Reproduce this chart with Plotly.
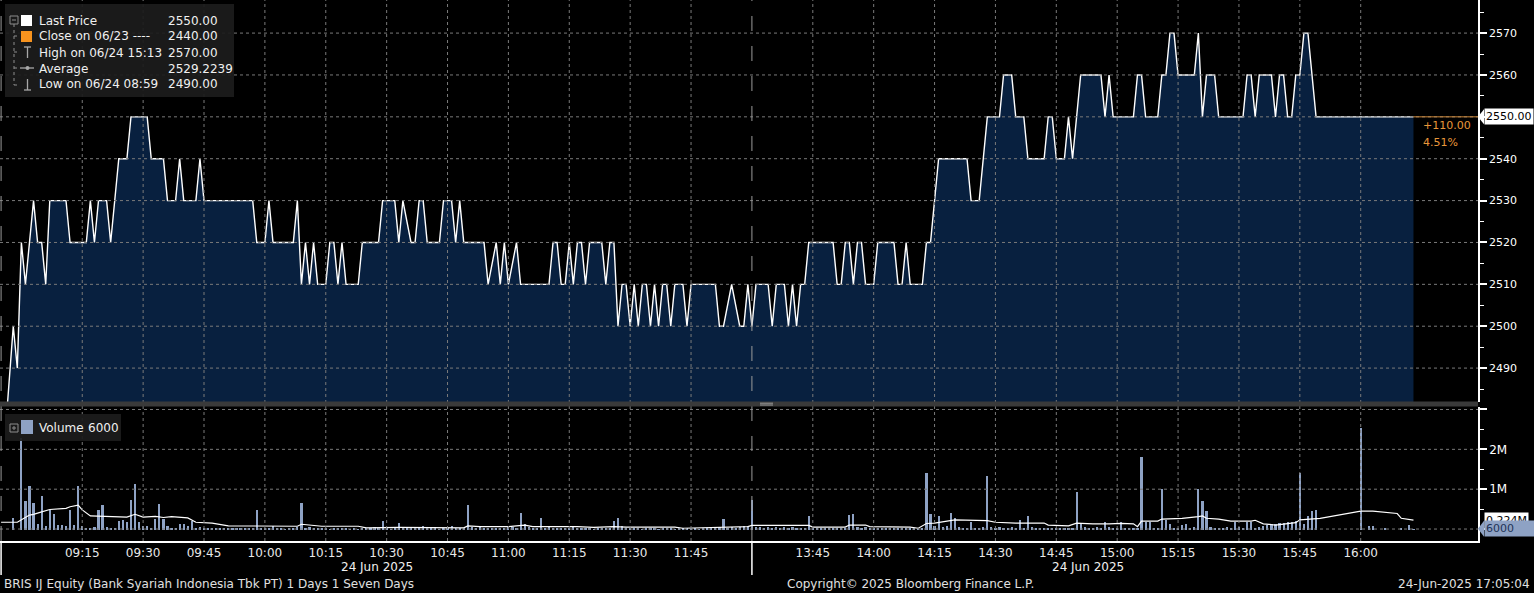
import plotly.graph_objects as go
import pandas as pd

DAY = "2025-06-24 "

# ---------------- price data (vertices of the intraday line) ----------------
price_times = [
    "08:56", "08:58", "08:59", "09:00", "09:01", "09:02", "09:03", "09:04", "09:05", "09:06",
    "09:07", "09:11", "09:12", "09:16", "09:17", "09:18", "09:19", "09:21", "09:22", "09:24",
    "09:26", "09:27", "09:31", "09:32", "09:35", "09:36", "09:38", "09:39", "09:40", "09:43",
    "09:44", "09:45", "09:57", "09:58", "10:00", "10:01", "10:02", "10:07", "10:08", "10:09",
    "10:10", "10:11", "10:12", "10:13", "10:15", "10:16", "10:17", "10:18", "10:19", "10:20",
    "10:23", "10:24", "10:28", "10:29", "10:32", "10:33", "10:34", "10:36", "10:37", "10:38",
    "10:39", "10:40", "10:43", "10:44", "10:46", "10:47", "10:48", "10:49", "10:54", "10:55",
    "10:57", "10:58", "10:59", "11:00", "11:02", "11:03", "11:10", "11:11", "11:12", "11:13",
    "11:14", "11:15", "11:16", "11:17", "11:18", "11:19", "11:20", "11:23", "11:24", "11:25",
    "11:26", "11:27", "11:28", "11:29", "11:30", "11:31", "11:32", "11:33", "11:34", "11:35",
    "11:36", "11:37", "11:38", "11:39", "11:40", "11:41", "11:43", "11:44", "11:45", "11:51",
    "11:52", "11:53", "11:55", "11:57", "11:58", "11:59",
    "13:30", "13:31", "13:34", "13:35", "13:36", "13:38", "13:39", "13:40", "13:41", "13:42",
    "13:43", "13:44", "13:50", "13:51", "13:52", "13:53", "13:54", "13:55", "13:56", "13:57",
    "13:58", "14:00", "14:01", "14:05", "14:06", "14:07", "14:08", "14:09", "14:12", "14:13",
    "14:14", "14:15", "14:16", "14:23", "14:24", "14:26", "14:27", "14:28", "14:31", "14:32",
    "14:34", "14:35", "14:37", "14:38", "14:42", "14:43", "14:44", "14:45", "14:47", "14:48",
    "14:49", "14:50", "14:51", "14:56", "14:57", "14:58", "14:59", "15:04", "15:05", "15:06",
    "15:07", "15:10", "15:11", "15:12", "15:13", "15:14", "15:15", "15:19", "15:20", "15:21",
    "15:22", "15:24", "15:25", "15:31", "15:32", "15:33", "15:34", "15:35", "15:38", "15:39",
    "15:40", "15:41", "15:42", "15:43", "15:44", "15:45", "15:46", "15:47", "15:48", "15:49",
    "16:13",
]
price_values = [
    2474, 2500, 2490, 2520, 2510, 2520, 2530, 2520, 2520, 2510,
    2530, 2530, 2520, 2520, 2530, 2520, 2530, 2530, 2520, 2540,
    2540, 2550, 2550, 2540, 2540, 2530, 2530, 2540, 2530, 2530,
    2540, 2530, 2530, 2520, 2520, 2530, 2520, 2520, 2530, 2510,
    2520, 2510, 2520, 2510, 2510, 2520, 2520, 2510, 2520, 2510,
    2510, 2520, 2520, 2530, 2530, 2520, 2530, 2520, 2520, 2530,
    2530, 2520, 2520, 2530, 2530, 2520, 2530, 2520, 2520, 2510,
    2520, 2510, 2520, 2510, 2520, 2510, 2510, 2520, 2520, 2510,
    2510, 2520, 2510, 2520, 2520, 2510, 2520, 2520, 2510, 2520,
    2520, 2500, 2510, 2510, 2500, 2510, 2500, 2510, 2510, 2500,
    2510, 2500, 2510, 2510, 2500, 2510, 2510, 2500, 2510, 2510,
    2500, 2500, 2510, 2500, 2500, 2510,
    2500, 2510, 2510, 2500, 2510, 2510, 2500, 2510, 2500, 2510,
    2510, 2520, 2520, 2510, 2510, 2520, 2520, 2510, 2520, 2520,
    2510, 2510, 2520, 2520, 2510, 2510, 2520, 2510, 2510, 2520,
    2520, 2530, 2540, 2540, 2530, 2530, 2540, 2550, 2550, 2560,
    2560, 2550, 2550, 2540, 2540, 2550, 2550, 2540, 2540, 2550,
    2540, 2550, 2560, 2560, 2550, 2560, 2550, 2550, 2560, 2560,
    2550, 2550, 2560, 2560, 2570, 2570, 2560, 2560, 2570, 2550,
    2560, 2560, 2550, 2550, 2560, 2560, 2550, 2560, 2560, 2550,
    2560, 2560, 2550, 2550, 2560, 2560, 2570, 2570, 2560, 2550,
    2550,
]

# ---------------- volume data (thousand shares per minute) ----------------
vol_preopen_times = ["08:58"]
vol_preopen_k = [280]
vol_morning_k = [  # 09:00 .. 11:59
    2300, 720, 1100, 670, 150, 830, 100, 480, 400, 120,
    120, 100, 490, 120, 1100, 80, 40, 40, 70, 480,
    620, 70, 40, 40, 220, 240, 180, 750, 1140, 180,
    100, 80, 40, 260, 640, 260, 80, 40, 40, 150,
    150, 80, 220, 40, 60, 50, 40, 40, 50, 30,
    20, 30, 20, 20, 30, 40, 30, 40, 500, 30,
    40, 20, 80, 30, 20, 10, 30, 40, 60, 670,
    40, 60, 30, 20, 30, 20, 10, 30, 20, 40,
    20, 10, 20, 10, 30, 20, 40, 60, 50, 220,
    20, 10, 20, 170, 30, 20, 30, 40, 20, 100,
    20, 30, 20, 10, 20, 20, 80, 20, 30, 40,
    620, 60, 40, 80, 30, 20, 30, 20, 30, 40,
    80, 60, 40, 410, 140, 60, 40, 50, 280, 40,
    60, 50, 40, 20, 30, 20, 100, 30, 20, 30,
    20, 10, 20, 30, 20, 40, 220, 280, 80, 30,
    20, 30, 20, 10, 20, 30, 20, 10, 20, 30,
    20, 10, 20, 30, 20, 30, 20, 10, 30, 40,
    70, 40, 60, 260, 40, 60, 50, 70, 80, 100,
]
vol_afternoon_k = [  # 13:30 .. 16:13
    740, 60, 60, 50, 60, 50, 60, 50, 60, 50,
    60, 50, 40, 50, 350, 40, 30, 20, 30, 20,
    30, 20, 30, 20, 370, 390, 60, 50, 60, 40,
    30, 20, 30, 20, 30, 20, 30, 20, 30, 20,
    20, 10, 20, 1430, 390, 80, 350, 60, 80, 410,
    280, 60, 50, 40, 200, 50, 40, 60, 1350, 60,
    50, 60, 40, 50, 60, 40, 230, 50, 340, 60,
    50, 30, 20, 30, 20, 40, 30, 20, 30, 50,
    930, 150, 60, 50, 40, 60, 50, 200, 60, 40,
    50, 200, 40, 30, 40, 50, 1830, 200, 200, 40,
    50, 1020, 230, 150, 50, 40, 120, 150, 40, 60,
    1020, 720, 470, 60, 40, 50, 40, 60, 50, 200,
    60, 50, 200, 180, 50, 60, 100, 120, 140, 150,
    160, 170, 180, 190, 220, 1410, 150, 350, 470, 500,
    0, 0, 0, 0, 0, 0, 0, 0, 0, 0,
    2550, 0, 80, 80, 0, 0, 20, 0, 0, 0,
    20, 0, 120, 6,
]

# volume moving-average line (millions)
avg_times = [
    "08:55", "08:59", "09:02", "09:03", "09:05", "09:07", "09:11", "09:12", "09:14", "09:15",
    "09:17", "09:26", "09:28", "09:30", "09:33", "09:35", "09:37", "09:41", "09:43", "09:47",
    "09:51", "10:08", "10:09", "10:11", "10:14", "10:23", "10:25", "10:33", "10:49", "10:50",
    "10:53", "11:00", "11:04", "11:06", "11:17", "11:21", "11:26", "11:29", "11:41", "11:43",
    "11:57", "11:59", "13:30", "13:44", "13:45", "13:53", "13:54", "13:58", "13:59", "14:09",
    "14:11", "14:13", "14:15", "14:18", "14:20", "14:28", "14:30", "14:35", "14:42", "14:43",
    "14:48", "14:50", "14:54", "14:58", "15:01", "15:04", "15:05", "15:06", "15:10", "15:11",
    "15:16", "15:20", "15:21", "15:22", "15:25", "15:28", "15:33", "15:34", "15:36", "15:39",
    "15:44", "15:45", "15:50", "16:00", "16:03", "16:09", "16:10", "16:13",
]
avg_values_m = [
    0.17, 0.17, 0.35, 0.37, 0.43, 0.49, 0.52, 0.56, 0.60, 0.48,
    0.33, 0.30, 0.37, 0.30, 0.32, 0.29, 0.31, 0.28, 0.17, 0.15,
    0.08, 0.07, 0.12, 0.10, 0.07, 0.07, 0.03, 0.04, 0.03, 0.08,
    0.06, 0.06, 0.10, 0.06, 0.06, 0.04, 0.06, 0.05, 0.05, 0.02,
    0.04, 0.06, 0.09, 0.09, 0.05, 0.05, 0.10, 0.10, 0.06, 0.05,
    0.02, 0.14, 0.15, 0.20, 0.23, 0.21, 0.17, 0.15, 0.15, 0.10,
    0.08, 0.15, 0.13, 0.13, 0.14, 0.13, 0.06, 0.20, 0.20, 0.25,
    0.27, 0.31, 0.33, 0.27, 0.25, 0.20, 0.20, 0.22, 0.13, 0.10,
    0.16, 0.23, 0.27, 0.45, 0.45, 0.39, 0.27, 0.224,
]

x_tick_times = ["09:15", "09:30", "09:45", "10:00", "10:15", "10:30", "10:45", "11:00",
                "11:15", "11:30", "11:45", "13:45", "14:00", "14:15", "14:30", "14:45",
                "15:00", "15:15", "15:30", "15:45", "16:00"]
price_ticks = [2490, 2500, 2510, 2520, 2530, 2540, 2550, 2560, 2570]
vol_ticks = [0, 1e6, 2e6, 3e6]
vol_tick_text = ["", "1M", "2M", ""]
session_marks = ["08:55", "12:00"]

last_price = 2550.00
close_prev = 2440.00
last_volume = 6000
avg_volume_label = "0.224M"

# ---------------- build x values ----------------
vol_x = ([pd.Timestamp(DAY + t) for t in vol_preopen_times]
         + list(pd.date_range(DAY + "09:00", periods=len(vol_morning_k), freq="min"))
         + list(pd.date_range(DAY + "13:30", periods=len(vol_afternoon_k), freq="min")))
vol_y = [v * 1000 for v in vol_preopen_k + vol_morning_k + vol_afternoon_k]

FONT = "DejaVu Sans"
W, H = 1534, 593
ML, MR, MT, MB = 0, 56, 0, 52
PW, PH = W - ML - MR, H - MT - MB


def px(x):
    return (x - ML) / PW


def py(y):
    return (PH - (y - MT)) / PH


fig = go.Figure()
fig.add_trace(go.Scatter(
    x=[DAY + t for t in price_times], y=price_values, mode="lines",
    line=dict(color="#ffffff", width=1.4), fill="tozeroy", fillcolor="#08203f",
    xaxis="x", yaxis="y", hoverinfo="skip"))
fig.add_trace(go.Bar(
    x=vol_x, y=vol_y, marker=dict(color="#8ea2c4", line=dict(width=0)), width=32000,
    xaxis="x", yaxis="y2", hoverinfo="skip"))
fig.add_trace(go.Scatter(
    x=[DAY + t for t in avg_times], y=[v * 1e6 for v in avg_values_m], mode="lines",
    line=dict(color="#ffffff", width=1.2), xaxis="x", yaxis="y2", hoverinfo="skip"))

shapes = []
GRID = dict(color="#7a7a7a", width=1, dash="dot")
for t in x_tick_times:
    shapes.append(dict(type="line", xref="x", yref="paper", x0=DAY + t, x1=DAY + t,
                       y0=0, y1=1, line=GRID, layer="above"))
for v in price_ticks:
    shapes.append(dict(type="line", xref="paper", yref="y", x0=0, x1=1, y0=v, y1=v,
                       line=GRID, layer="above"))
for v in vol_ticks:
    shapes.append(dict(type="line", xref="paper", yref="y2", x0=0, x1=1, y0=v, y1=v,
                       line=GRID, layer="above"))
for t in session_marks:
    shapes.append(dict(type="line", xref="x", yref="paper", x0=DAY + t, x1=DAY + t,
                       y0=0, y1=1, line=dict(color="#9a9a9a", width=1, dash="longdash"),
                       layer="above"))
    shapes.append(dict(type="line", xref="x", yref="paper", x0=DAY + t, x1=DAY + t,
                       y0=0, y1=py(575), line=dict(color="#ffffff", width=1.5),
                       layer="above"))

# orange last-price extension
shapes.append(dict(type="line", xref="x", yref="y", x0=DAY + price_times[-1],
                   x1=DAY + "16:28:54", y0=last_price, y1=last_price,
                   line=dict(color="#d08a3a", width=1), layer="above"))

# panel separator
shapes.append(dict(type="rect", xref="paper", yref="paper", x0=0, x1=1,
                   y0=py(406.5), y1=py(401.5), fillcolor="#3a3a3a",
                   line=dict(width=0), layer="above"))
for yy in (403.2, 405):
    shapes.append(dict(type="line", xref="paper", yref="paper", x0=px(760), x1=px(773),
                       y0=py(yy), y1=py(yy), line=dict(color="#9a9a9a", width=1),
                       layer="above"))

# legend boxes
shapes.append(dict(type="rect", xref="paper", yref="paper", x0=px(5), x1=px(234),
                   y0=py(97), y1=py(4), fillcolor="rgba(28,28,28,0.93)",
                   line=dict(width=0), layer="above"))
shapes.append(dict(type="rect", xref="paper", yref="paper", x0=px(5), x1=px(121),
                   y0=py(441), y1=py(414), fillcolor="rgba(28,28,28,0.93)",
                   line=dict(width=0), layer="above"))
TREE = dict(color="#8c8c8c", width=1)
# tree in price legend
shapes.append(dict(type="rect", xref="paper", yref="paper", x0=px(10), x1=px(18),
                   y0=py(24), y1=py(16), line=TREE, layer="above"))
shapes.append(dict(type="line", xref="paper", yref="paper", x0=px(12), x1=px(16),
                   y0=py(20), y1=py(20), line=TREE, layer="above"))
shapes.append(dict(type="line", xref="paper", yref="paper", x0=px(14), x1=px(14),
                   y0=py(24), y1=py(85), line=dict(color="#8c8c8c", width=1, dash="dot"),
                   layer="above"))
for yy in (36, 52, 68, 85):
    shapes.append(dict(type="line", xref="paper", yref="paper", x0=px(14), x1=px(20),
                       y0=py(yy), y1=py(yy), line=dict(color="#8c8c8c", width=1, dash="dot"),
                       layer="above"))
# markers
shapes.append(dict(type="rect", xref="paper", yref="paper", x0=px(21), x1=px(32),
                   y0=py(26), y1=py(15), fillcolor="#ffffff", line=dict(width=0), layer="above"))
shapes.append(dict(type="rect", xref="paper", yref="paper", x0=px(21), x1=px(32),
                   y0=py(42), y1=py(31), fillcolor="#f7931e", line=dict(width=0), layer="above"))
MK = dict(color="#a8a8a8", width=1.3)
shapes.append(dict(type="line", xref="paper", yref="paper", x0=px(24), x1=px(31),
                   y0=py(47), y1=py(47), line=MK, layer="above"))
shapes.append(dict(type="line", xref="paper", yref="paper", x0=px(27.5), x1=px(27.5),
                   y0=py(47), y1=py(58), line=MK, layer="above"))
shapes.append(dict(type="line", xref="paper", yref="paper", x0=px(20), x1=px(34),
                   y0=py(68), y1=py(68), line=MK, layer="above"))
shapes.append(dict(type="circle", xref="paper", yref="paper", x0=px(25.5), x1=px(29.5),
                   y0=py(70), y1=py(66), fillcolor="#a8a8a8", line=dict(width=0),
                   layer="above"))
shapes.append(dict(type="line", xref="paper", yref="paper", x0=px(27.5), x1=px(27.5),
                   y0=py(79), y1=py(90), line=MK, layer="above"))
shapes.append(dict(type="line", xref="paper", yref="paper", x0=px(24), x1=px(31),
                   y0=py(90), y1=py(90), line=MK, layer="above"))
# volume legend
shapes.append(dict(type="rect", xref="paper", yref="paper", x0=px(10), x1=px(18),
                   y0=py(432), y1=py(424), line=TREE, layer="above"))
shapes.append(dict(type="line", xref="paper", yref="paper", x0=px(12), x1=px(16),
                   y0=py(428), y1=py(428), line=TREE, layer="above"))
shapes.append(dict(type="line", xref="paper", yref="paper", x0=px(14), x1=px(14),
                   y0=py(426), y1=py(430), line=TREE, layer="above"))
shapes.append(dict(type="rect", xref="paper", yref="paper", x0=px(21), x1=px(33),
                   y0=py(434), y1=py(420), fillcolor="#8ea2c4", line=dict(width=0),
                   layer="above"))


# right-side tag arrows
def tag_arrow(yref, yval, color, half):
    return dict(type="path", xref="paper", yref=yref,
                path=f"M {px(1478)},{yval} L {px(1484)},{yval + half} L {px(1484)},{yval - half} Z",
                fillcolor=color, line=dict(width=0), layer="above")


shapes.append(tag_arrow("y", last_price, "#ffffff", 1.8))

annotations = []
TXT = "#f0f0f0"


def ann(x, y, text, color=TXT, size=12, xanchor="left", **kw):
    d = dict(xref="paper", yref="paper", x=px(x), y=py(y), text=text, showarrow=False,
             xanchor=xanchor, yanchor="middle", font=dict(family=FONT, size=size, color=color))
    d.update(kw)
    annotations.append(d)


legend_rows = [
    ("Last Price", f"{last_price:.2f}", 20.5),
    ("Close on 06/23 ----", f"{close_prev:.2f}", 36.5),
    ("High on 06/24 15:13", f"{max(price_values[2:]):.2f}", 52.5),
    ("Average", "2529.2239", 68.5),
    ("Low on 06/24 08:59", f"{min(price_values[2:]):.2f}", 84.5),
]
for label, val, yy in legend_rows:
    ann(37, yy, label)
    ann(166, yy, val)
ann(37, 427.5, "Volume")
ann(86, 427.5, f"{last_volume}")

# right tags
annotations.append(dict(xref="paper", yref="y", x=px(1484), y=last_price,
                        text=f"{last_price:.2f}", showarrow=False, xanchor="left",
                        yanchor="middle", bgcolor="#ffffff", borderpad=1,
                        font=dict(family=FONT, size=11, color="#000000")))
annotations.append(dict(xref="paper", yref="paper", x=px(1421), y=py(126),
                        text=f"+{last_price - close_prev:.2f}", showarrow=False,
                        xanchor="left", yanchor="middle",
                        font=dict(family=FONT, size=11, color="#e8973a")))
annotations.append(dict(xref="paper", yref="paper", x=px(1421), y=py(142),
                        text=f"{(last_price - close_prev) / close_prev * 100:.2f}%",
                        showarrow=False, xanchor="left", yanchor="middle",
                        font=dict(family=FONT, size=11, color="#e8973a")))
annotations.append(dict(xref="paper", yref="y2", x=px(1484), y=avg_values_m[-1] * 1e6,
                        text=avg_volume_label, showarrow=False, xanchor="left",
                        yanchor="middle", bgcolor="#ffffff", borderpad=1,
                        font=dict(family=FONT, size=11, color="#000000")))
annotations.append(dict(xref="paper", yref="y2", x=px(1484), y=last_volume,
                        text=f"{last_volume}" + "&nbsp;" * 8, showarrow=False,
                        xanchor="left", yanchor="middle", bgcolor="#8ea2c4", borderpad=1,
                        font=dict(family=FONT, size=11, color="#1f3358")))
shapes.append(tag_arrow("y2", last_volume, "#8ea2c4", 0.2e6))

# date labels and footer
ann(377, 567, "24 Jun 2025", xanchor="center")
ann(1088, 567, "24 Jun 2025", xanchor="center")
ann(2, 584, "BRIS IJ Equity (Bank Syariah Indonesia Tbk PT) 1 Days 1 Seven Days",
    color="#e0e0e0")
ann(910, 584, "Copyright© 2025 Bloomberg Finance L.P.", color="#e0e0e0", xanchor="center")
ann(1532, 584, "24-Jun-2025 17:05:04", color="#e0e0e0", xanchor="right")

# price tick labels (the last-price tag stands in for its own level)
price_tick_text = ["" if v == last_price else str(v) for v in price_ticks]

fig.update_layout(
    width=W, height=H,
    margin=dict(l=ML, r=MR, t=MT, b=MB, pad=0),
    paper_bgcolor="#000000", plot_bgcolor="#000000",
    showlegend=False, bargap=0,
    font=dict(family=FONT, color=TXT, size=12),
    xaxis=dict(
        type="date", anchor="y2",
        range=[DAY + "08:54:44", DAY + "16:28:54"],
        rangebreaks=[dict(bounds=[DAY + "12:00", DAY + "13:30"])],
        tickvals=[DAY + t for t in x_tick_times], ticktext=x_tick_times,
        showgrid=False, zeroline=False, showline=True, linecolor="#ffffff", linewidth=1.5,
        ticks="", tickfont=dict(family=FONT, size=12, color="#e8e8e8"),
    ),
    yaxis=dict(
        domain=[py(402), 1], range=[2481.9, 2577.9], side="right", anchor="x",
        tickvals=price_ticks, ticktext=price_tick_text, showgrid=False, zeroline=False,
        showline=True, linecolor="#ffffff", linewidth=1.5,
        ticks="outside", ticklen=7, tickwidth=2, tickcolor="#ffffff",
        minor=dict(ticks="outside", ticklen=4, tickwidth=1, tickcolor="#ffffff",
                   tickvals=[v + 5 for v in price_ticks] + [price_ticks[0] - 5]),
        tickfont=dict(family=FONT, size=11, color="#ffffff"),
    ),
    yaxis2=dict(
        domain=[0, py(406.5)], range=[-0.3e6, 3.075e6], side="right", anchor="x",
        tickvals=vol_ticks, ticktext=vol_tick_text, showgrid=False, zeroline=False,
        showline=True, linecolor="#ffffff", linewidth=1.5,
        ticks="outside", ticklen=7, tickwidth=2, tickcolor="#ffffff",
        minor=dict(ticks="outside", ticklen=4, tickwidth=1, tickcolor="#ffffff",
                   tickvals=[0.5e6, 1.5e6, 2.5e6]),
        tickfont=dict(family=FONT, size=12, color="#ffffff"),
    ),
    shapes=shapes,
    annotations=annotations,
)

fig.write_html("out.html", config={"displayModeBar": False},
               post_script="document.body.style.margin='0';document.body.style.overflow='hidden';")
